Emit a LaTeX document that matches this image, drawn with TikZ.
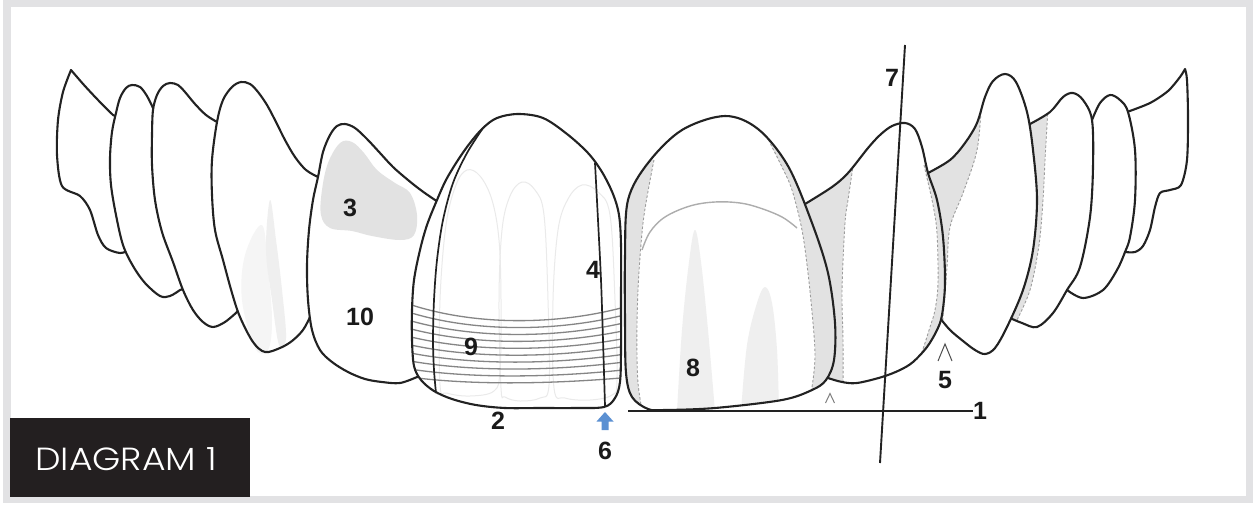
\documentclass[tikz,border=0pt]{standalone}
\usepackage{fontspec}
\setmainfont{Liberation Sans}
\newfontfamily\diagfont{Poppins Light}
\definecolor{outline}{HTML}{222222}
\definecolor{shadegray}{HTML}{E2E2E2}
\definecolor{dashgray}{HTML}{9C9C9C}
\definecolor{bandgray}{HTML}{858585}
\definecolor{ghostgray}{HTML}{EAEAEA}
\definecolor{streakgray}{HTML}{EFEFEF}
\definecolor{arcgray}{HTML}{ADADAD}
\definecolor{arrowblue}{HTML}{5B90D2}
\definecolor{framegray}{HTML}{E2E2E4}
\definecolor{boxblack}{HTML}{231F20}
\definecolor{labelblack}{HTML}{1A1A1A}
\begin{document}
\begin{tikzpicture}[x=1pt,y=-1pt,
  toothfill/.style={fill=white},
  toothline/.style={draw=outline,line width=2.1pt,line join=round},
  tooth/.style={fill=white,draw=outline,line width=2.1pt,line join=round},
  shadefill/.style={fill=shadegray},
  dashln/.style={draw=dashgray,line width=0.9pt,dash pattern=on 2.5pt off 2pt},
  band/.style={draw=bandgray,line width=1.3pt},
  ghost/.style={draw=ghostgray,line width=1pt},
  guide/.style={draw=outline,line width=1.9pt},
  caret/.style={draw=#1,line width=1pt,line join=miter},
  lbl/.style={font=\fontsize{25}{25}\selectfont\bfseries,text=labelblack,inner sep=0pt},
  diag/.style={font=\diagfont\fontsize{32}{32}\selectfont,text=white,inner sep=0pt,anchor=base west}]
\useasboundingbox (0,0) rectangle (1258,506);
% frame
\fill[framegray] (3,0) rectangle (1253,503);
\fill[white] (11,7) rectangle (1246,496);

% ---------- tooth outlines (paths) ----------
\def\pLone{plot[smooth,tension=.5] coordinates {(113,115) (98,100) (84,85) (71,70)} -- plot[smooth,tension=.5] coordinates {(71,70) (63,92) (58,120) (57,155) (62,186) (80,196) (90,210) (98,235) (106,248) (120,253) (130,250)} -- (135,125) -- cycle}
\def\pLtwo{plot[smooth,tension=.55] coordinates {(180,290) (170,296) (160,296) (145,283) (133,266) (123,245) (116,215) (111,185) (110,158) (112,132) (116,113) (120,98) (126,88) (132,85) (140,87) (147,96) (153,108)} -- (190,110) -- (195,285) -- cycle}
\def\pLthree{plot[smooth,tension=.55] coordinates {(237,312) (225,322) (213,327) (203,322) (193,310) (183,290) (173,262) (162,232) (155,200) (152,165) (152,135) (153,110) (157,95) (163,86) (170,83) (178,85) (185,92) (195,104) (206,115) (217,122)} -- (245,125) -- (245,300) -- cycle}
\def\pLfour{plot[smooth,tension=.55] coordinates {(310,317) (303,330) (292,341) (280,348) (265,352) (253,342) (240,317) (232,293) (223,260) (215,230) (212,195) (212,160) (217,122) (223,100) (232,87) (241,82) (250,84) (258,92) (267,105) (276,122) (285,140) (295,157) (306,170) (318,177)} -- (335,185) -- (335,310) -- cycle}
\def\pLfive{plot[smooth,tension=.55] coordinates {(417,377) (400,383) (382,382) (365,379) (348,372) (332,362) (320,350) (312,330) (308,300) (307,265) (309,230) (313,200) (318,177) (323,152) (330,135) (337,126) (345,124) (355,128) (367,139) (380,153) (393,167) (408,180) (422,191) (438,202)} -- (450,260) -- (445,375) -- cycle}
\def\pLsix{plot[smooth cycle,tension=.55] coordinates {(518,114) (543,118) (567,134) (588,153) (602,172) (613,194) (619,215) (621,245) (621,300) (621,350) (620,382) (615,398) (604,407) (575,408) (540,408) (505,408) (476,405) (452,399) (434,391) (421,380) (414,366) (412,340) (412,310) (414,280) (420,250) (427,225) (437,200) (446,180) (458,160) (470,143) (483,128) (497,118)}}
\def\pRone{plot[smooth cycle,tension=.55] coordinates {(725,116) (758,129) (788,166) (812,223) (828,273) (835,323) (834,360) (826,380) (812,390) (782,400) (715,408) (665,410) (648,409) (632,397) (626,373) (625,320) (625,257) (628,200) (648,163) (682,130)}}
\def\pRtwo{plot[smooth,tension=.55] coordinates {(828,378) (842,382) (857,383) (882,377) (900,370) (913,362) (927,347) (937,330) (942,315) (945,283) (943,237) (937,200) (928,173) (922,147) (915,129) (905,123) (892,126) (880,135) (868,148) (848,173) (832,187) (805,204)} -- (790,260) -- (812,340) -- cycle}
\def\pRthree{plot[smooth,tension=.55] coordinates {(940,318) (950,330) (963,341) (975,350) (985,354) (995,348) (1007,327) (1023,290) (1033,250) (1037,200) (1033,150) (1027,112) (1016,82) (1005,74) (993,81) (985,97) (977,123) (965,143) (950,160) (928,173)} -- (915,200) -- (925,310) -- cycle}
\def\pRfour{plot[smooth,tension=.55] coordinates {(1010,318) (1022,323) (1037,327) (1053,313) (1067,290) (1080,267) (1090,217) (1093,167) (1092,120) (1083,100) (1073,93) (1063,97) (1050,112) (1030,124)} -- (1015,150) -- (1000,300) -- cycle}
\def\pRfive{plot[smooth,tension=.55] coordinates {(1067,290) (1083,298) (1103,290) (1117,270) (1125,252) (1130,237) (1135,200) (1135,150) (1128,112) (1120,100) (1110,95) (1100,103) (1092,120)} -- (1075,150) -- (1055,280) -- cycle}
\def\pRsix{plot[smooth,tension=.5] coordinates {(1127,112) (1150,103) (1168,91) (1180,77) (1185,69)} -- plot[smooth,tension=.5] coordinates {(1185,69) (1187,80) (1188,117) (1187,160) (1181,185) (1170,190) (1160,193) (1155,207) (1150,230) (1143,246) (1135,252) (1125,252)} -- (1110,230) -- (1112,125) -- cycle}

% ---------- left side, back to front ----------
\filldraw[tooth] \pLone;
\filldraw[tooth] \pLtwo;
\filldraw[tooth] \pLthree;
\fill[toothfill] \pLfour;
\fill[streakgray!60!white] plot[smooth cycle,tension=.6] coordinates {(262,225) (268,270) (272,320) (268,350) (255,348) (242,300) (245,255)};
\fill[streakgray] plot[smooth cycle,tension=.6] coordinates {(270,200) (276,240) (282,290) (286,338) (279,345) (272,300) (266,250)};
\draw[toothline] \pLfour;
\fill[toothfill] \pLfive;
\fill[shadefill] plot[smooth cycle,tension=.6] coordinates {(340,143) (352,142) (364,153) (377,170) (395,183) (410,193) (417,215) (414,235) (400,240) (372,236) (352,231) (330,228) (321,215) (322,190) (328,163)};
\draw[toothline] \pLfive;
% central incisor (left)
\fill[toothfill] \pLsix;
\begin{scope}
\clip \pLsix;
\draw[ghost] plot[smooth cycle,tension=.6] coordinates {(440,385) (440,300) (446,225) (456,185) (467,170) (480,176) (492,200) (499,240) (501,300) (500,370) (494,391) (470,396) (447,393)};
\draw[ghost] plot[smooth cycle,tension=.6] coordinates {(501,388) (499,300) (502,230) (510,196) (522,182) (535,190) (544,215) (548,300) (549,385) (540,398) (520,401) (505,397)};
\draw[ghost] plot[smooth cycle,tension=.6] coordinates {(554,388) (553,300) (558,230) (568,199) (582,185) (598,192) (610,215) (615,300) (617,380) (612,395) (590,400) (565,398)};
\foreach \i in {0,...,9}{
  \draw[band] (400,{301+8.3*\i}) .. controls (470,{327+6.6*\i}) and (560,{326+6.4*\i}) .. (632,{305+8*\i});
}
\end{scope}
\draw[toothline,line width=1.7pt] plot[smooth,tension=.55] coordinates {(483,128) (467,153) (453,183) (443,220) (437,260) (434,300) (433,340) (434,370) (436,393)};
\draw[toothline,line width=1.7pt] plot[smooth,tension=.55] coordinates {(595,163) (598,220) (601,280) (603,340) (605,406)};
\draw[toothline] \pLsix;

% ---------- right side, back to front ----------
\filldraw[tooth] \pRsix;
\filldraw[tooth] \pRfive;
\fill[toothfill] \pRfour;
\begin{scope}
\clip \pRfour;
\fill[shadefill] plot[smooth,tension=.55] coordinates {(1048,105) (1047,125) (1045,160) (1043,200) (1039,245) (1030,290) (1016,322)} -- (995,330) -- (995,105) -- cycle;
\draw[dashln] plot[smooth,tension=.55] coordinates {(1048,105) (1047,125) (1045,160) (1043,200) (1039,245) (1030,290) (1016,322)};
\end{scope}
\draw[toothline] \pRfour;
\fill[toothfill] \pRthree;
\begin{scope}
\clip \pRthree;
\fill[shadefill] plot[smooth,tension=.55] coordinates {(985,85) (982,100) (977,150) (963,193) (950,227) (947,267) (943,317) (941,340)} -- (900,345) -- (900,150) -- cycle;
\draw[dashln] plot[smooth,tension=.55] coordinates {(985,85) (982,100) (977,150) (963,193) (950,227) (947,267) (943,317) (941,340)};
\end{scope}
\draw[toothline] \pRthree;
\fill[toothfill] \pRtwo;
\begin{scope}
\clip \pRtwo;
\fill[shadefill] plot[smooth,tension=.55] coordinates {(854,160) (852,173) (848,200) (845,223) (842,290) (843,340) (843,390)} -- (790,400) -- (790,150) -- cycle;
\draw[dashln] plot[smooth,tension=.55] coordinates {(854,160) (852,173) (848,200) (845,223) (842,290) (843,340) (843,390)};
\fill[shadefill] plot[smooth,tension=.55] coordinates {(924,165) (927,178) (933,205) (937,233) (938,283) (935,310) (930,327) (920,357) (910,372)} -- (960,385) -- (960,150) -- cycle;
\draw[dashln] plot[smooth,tension=.55] coordinates {(924,165) (927,178) (933,205) (937,233) (938,283) (935,310) (930,327) (920,357) (910,372)};
\end{scope}
\draw[toothline] \pRtwo;
% central incisor (right)
\fill[toothfill] \pRone;
\begin{scope}
\clip \pRone;
\fill[shadefill] plot[smooth,tension=.55] coordinates {(654,160) (652,170) (647,197) (643,223) (640,257) (638,290) (637,323) (637,357) (638,383) (641,405)} -- (600,420) -- (600,150) -- cycle;
\draw[dashln] plot[smooth,tension=.55] coordinates {(654,160) (652,170) (647,197) (643,223) (640,257) (638,290) (637,323) (637,357) (638,383) (641,405)};
\fill[shadefill] plot[smooth,tension=.55] coordinates {(762,128) (767,137) (782,167) (792,190) (802,230) (808,273) (813,323) (815,357) (812,387) (808,402)} -- (880,420) -- (880,100) -- cycle;
\draw[dashln] plot[smooth,tension=.55] coordinates {(762,128) (767,137) (782,167) (792,190) (802,230) (808,273) (813,323) (815,357) (812,387) (808,402)};
\fill[streakgray] plot[smooth,tension=.6] coordinates {(677,412) (682,330) (689,262) (695,230) (701,262) (708,330) (715,412)} -- cycle;
\fill[streakgray] plot[smooth,tension=.6] coordinates {(741,412) (747,345) (757,303) (765,287) (772,303) (777,350) (779,412)} -- cycle;
\draw[draw=arcgray,line width=1.4pt] plot[smooth,tension=.6] coordinates {(642,250) (650,232) (665,217) (690,206) (715,202) (740,203) (760,208) (782,217) (797,228)};
\end{scope}
\draw[toothline] \pRone;

% ---------- reference lines ----------
\node[lbl] (n1) at (980,411) {1};
\node[lbl] (n7) at (892,78) {7};
\coordinate (l1) at (628,411);
\coordinate (t7) at (905,45);
\coordinate (b7) at (880,463);
\draw[guide] (l1) -- (n1.west);
\draw[guide] (t7) -- (b7);

% carets
\draw[caret=gray] (825.5,403) -- (830,393.5) -- (834.5,403);
\draw[caret=outline!80] (938,361) -- (945,344) -- (952,361);

% blue arrow
\fill[arrowblue] (605,412) -- (613.5,421.5) -- (608.5,421.5) -- (608.5,430) -- (601.5,430) -- (601.5,421.5) -- (596.5,421.5) -- cycle;

% labels
\node[lbl] (n2) at (498,421) {2};
\node[lbl] (n3) at (350,208) {3};
\node[lbl] (n4) at (593,270) {4};
\node[lbl] (n5) at (945,380) {5};
\node[lbl] (n6) at (605,451) {6};
\node[lbl] (n8) at (693,368) {8};
\node[lbl] (n9) at (471,347) {9};
\node[lbl] (n10) at (360,317) {10};

% caption box
\fill[boxblack] (10,418) rectangle (250,497);
\node[diag] (dg) at (35,470) {\scalebox{1.13}[1]{DIAGRAM 1}};
\end{tikzpicture}
\end{document}
